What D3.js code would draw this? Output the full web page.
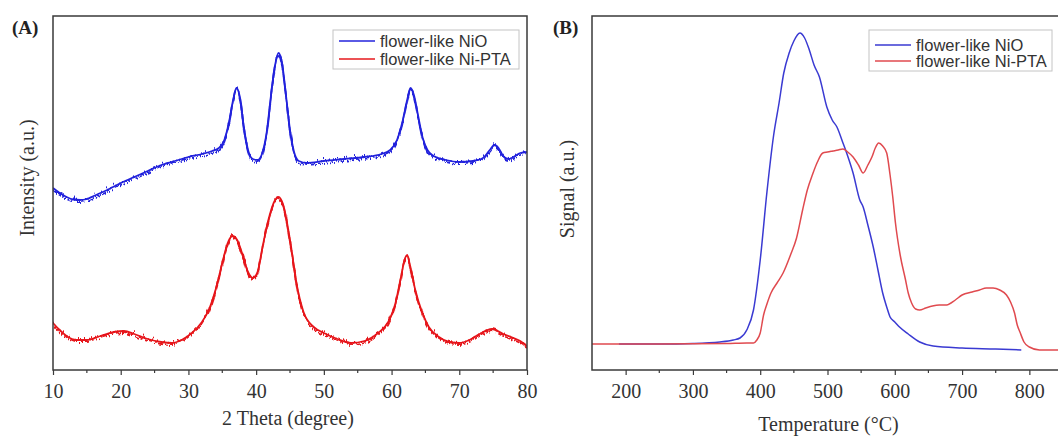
<!DOCTYPE html>
<html>
<head>
<meta charset="utf-8">
<script src="https://cdn.jsdelivr.net/npm/d3@7/dist/d3.min.js"></script>
<style>
  html, body { margin: 0; padding: 0; background: #fff; }
  svg { display: block; }
</style>
</head>
<body>
<svg id="fig" width="1058" height="436"></svg>
<script>
// ---- (A) XRD patterns: 2θ in degrees, intensity in arbitrary units ----
const thetaNiO = [10,11,12,13,14,15,16,18,20,22,24,26,28,29,30,32,33.5,34.5,35.3,36,36.6,37.1,37.6,38.2,38.8,39.5,40.2,40.8,41.5,42.2,42.8,43.3,43.8,44.4,45,45.6,46.3,47.5,50,53,56,58.5,59.8,60.8,61.6,62.3,62.8,63.3,63.9,64.6,65.3,66.2,68,70,72,73.5,74.5,75.2,75.8,76.6,77.3,78,79,80];
const intensityNiO = [182,177,173,170.5,170,171,174,180,187,193,199,205,209,211,213,216,219,222,230,248,270,282,273,242,220,211,210,215,235,275,305,317,308,275,240,218,209,207,209,211,213,216,220,230,248,270,282,275,255,232,220,214,210,208,209,212,220,225,222,213,211,213,217,218];

const thetaNiPTA = [10,11,12,13.5,15,17,19,20.5,22,24,26,27.5,29,30.5,32,33,34,35,35.8,36.5,37.2,38,38.8,39.5,40.2,41,42,42.8,43.3,44,45,46,47,48.5,50,52,54,56,58,59.5,60.5,61.3,62,62.3,62.8,63.5,64.5,65.5,67,68.5,70,71.5,73,74.8,76.5,78,79,80];
const intensityNiPTA = [47,40,34,30,30,34,38,39,36,31,28,27,30,37,48,60,80,107,127,134,130,115,98,92,98,125,155,170,173,165,130,85,58,43,37,31,27,29,37,48,65,90,112,115,102,80,58,43,33,28,27,30,36,41,36,32,29,24];

// ---- (B) TPR profiles: temperature in °C, signal in arbitrary units ----
const tempNiO = [190,250,300,340,360,370,380,390,400,410,420,428,435,443,450,459,466,473,480,488,499,507,514,523,530,538,548,553,560,568,575,582,588,593,600,607,620,637,657,700,750,788];
const signalNiO = [26,26,26.5,28,30,32,40,60,110,178,235,267,297,317,329,337,332,320,305,293,263,250,243,227,214,197,170,163,145,123,100,77,63,53,48,43,36,28,24,22,21,20];

const tempNiPTA = [150,250,350,380,390,395,400,405,410,416,425,434,445,454,463,470,478,485,493,500,508,516,523,530,538,546,553,560,566,571,576,582,588,593,597,601,608,616,620,625,631,637,646,656,666,677,690,700,715,726,736,746,756,766,772,778,782,786,792,800,815,850];
const signalNiPTA = [26,26,26.5,27,27,30,37,55,66,77,87,97,115,132,160,180,196,208,217,218,219,220,221,218,213,205,197,205,213,222,227,224,217,195,173,147,115,90,77,67,61,60,62,64,65,65,70,75,78,80,82,82,80,75,68,57,45,38,28,23,20,20];

// axis tick values
const thetaTicks = [10,20,30,40,50,60,70,80];
const tempTicks = [200,300,400,500,600,700,800];
const seriesNames = ["flower-like NiO", "flower-like Ni-PTA"];

// ---- layout & styles ----
const BLUE_A = "#2323dc", RED_A = "#e6181c";
const BLUE_B = "#3a3ad2", RED_B = "#e04a4f";
const serif = "'Liberation Serif', 'Times New Roman', serif";
const sans = "'Liberation Sans', Arial, sans-serif";

const svg = d3.select("#fig");

// counting-noise texture for the XRD traces: vertical-only jitter
const defs = svg.append("defs");
const flt = defs.append("filter").attr("id", "grain")
  .attr("x", "-2%").attr("y", "-10%").attr("width", "104%").attr("height", "120%");
flt.append("feTurbulence").attr("type", "turbulence")
  .attr("baseFrequency", "1.1 0.04").attr("numOctaves", 2).attr("seed", 7).attr("result", "n");
flt.append("feColorMatrix").attr("in", "n").attr("type", "matrix")
  .attr("values", "0 0 0 0 0.5  0 1.6 0 0 -0.1  0 0 1 0 0  0 0 0 0 1").attr("result", "m");
flt.append("feDisplacementMap").attr("in", "SourceGraphic").attr("in2", "m")
  .attr("scale", 6).attr("xChannelSelector", "R").attr("yChannelSelector", "G").attr("result", "d");
flt.append("feMerge").call(m => {
  m.append("feMergeNode").attr("in", "SourceGraphic");
  m.append("feMergeNode").attr("in", "d");
});

function zip(xs, ys) { return xs.map((x, i) => [x, ys[i]]); }

function panel(cfg) {
  const g = svg.append("g");
  const x = d3.scaleLinear().domain(cfg.xDomain).range([cfg.left, cfg.right]);
  const y = d3.scaleLinear().domain([0, 354]).range([cfg.bottom, cfg.top]);

  // clip for the plot area
  const clipId = cfg.id + "-clip";
  defs.append("clipPath").attr("id", clipId).append("rect")
    .attr("x", cfg.left).attr("y", cfg.top)
    .attr("width", cfg.right - cfg.left).attr("height", cfg.bottom - cfg.top);

  const line = d3.line().x(d => x(d[0])).y(d => y(d[1])).curve(d3.curveMonotoneX);
  const plot = g.append("g").attr("clip-path", `url(#${clipId})`);
  cfg.series.forEach(s => {
    plot.append("path")
      .attr("d", line(zip(s.xs, s.ys)))
      .attr("fill", "none")
      .attr("stroke", s.color)
      .attr("stroke-width", s.width)
      .attr("stroke-linejoin", "round")
      .attr("filter", s.grain ? "url(#grain)" : null);
  });

  // frame
  g.append("rect")
    .attr("x", cfg.left).attr("y", cfg.top)
    .attr("width", cfg.right - cfg.left).attr("height", cfg.bottom - cfg.top)
    .attr("fill", "none").attr("stroke", "#3a3a3a").attr("stroke-width", 1.5);

  // minor ticks
  g.append("g").selectAll("line").data(cfg.minorTicks).join("line")
    .attr("x1", d => x(d)).attr("x2", d => x(d))
    .attr("y1", cfg.bottom).attr("y2", cfg.bottom + 3)
    .attr("stroke", "#3a3a3a").attr("stroke-width", 1.2);

  // major ticks + labels
  const axis = d3.axisBottom(x).tickValues(cfg.ticks).tickSize(5).tickSizeOuter(0).tickPadding(cfg.tickPad);
  const ag = g.append("g").attr("transform", `translate(0,${cfg.bottom})`).call(axis);
  ag.select(".domain").remove();
  ag.selectAll(".tick line").attr("stroke", "#3a3a3a").attr("stroke-width", 1.2);
  ag.selectAll(".tick text").attr("font-family", serif).attr("font-size", 20).attr("fill", "#333");

  // axis titles
  g.append("text").attr("x", (cfg.left + cfg.right) / 2 + cfg.xTitleShift).attr("y", cfg.xTitleY)
    .attr("text-anchor", "middle").attr("font-family", serif).attr("font-size", 20).attr("fill", "#333")
    .text(cfg.xTitle);
  g.append("text")
    .attr("transform", `translate(${cfg.yTitleX},${cfg.yTitleMid}) rotate(-90)`)
    .attr("text-anchor", "middle").attr("font-family", serif).attr("font-size", 20).attr("fill", "#333")
    .text(cfg.yTitle);

  // panel tag
  g.append("text").attr("x", cfg.tagX).attr("y", 34)
    .attr("font-family", serif).attr("font-weight", "bold").attr("font-size", 19).attr("fill", "#222")
    .text(cfg.tag);

  // legend
  const L = cfg.legend;
  const lg = g.append("g");
  lg.append("rect").attr("x", L.x).attr("y", L.y).attr("width", L.w).attr("height", L.h)
    .attr("fill", "#fff").attr("stroke", "#c4c4c4").attr("stroke-width", 1);
  cfg.series.forEach((s, i) => {
    const yy = L.rows[i];
    lg.append("line").attr("x1", L.x + 6).attr("x2", L.x + 42).attr("y1", yy).attr("y2", yy)
      .attr("stroke", s.color).attr("stroke-width", 1.3);
    lg.append("text").attr("x", L.x + 47).attr("y", yy + 5.5)
      .attr("font-family", sans).attr("font-size", 16.5).attr("fill", "#333")
      .text(seriesNames[i]);
  });
}

panel({
  id: "xrd", tag: "(A)", tagX: 12,
  left: 53, right: 527, top: 16, bottom: 370,
  xDomain: [10, 80], ticks: thetaTicks,
  minorTicks: d3.range(15, 80, 10), tickPad: 9,
  xTitle: "2 Theta (degree)", xTitleY: 425, xTitleShift: -2,
  yTitle: "Intensity (a.u.)", yTitleX: 34, yTitleMid: 178,
  legend: { x: 333, y: 30, w: 186, h: 39, rows: [41, 59] },
  series: [
    { xs: thetaNiO, ys: intensityNiO, color: BLUE_A, width: 1.8, grain: true },
    { xs: thetaNiPTA, ys: intensityNiPTA, color: RED_A, width: 1.8, grain: true }
  ]
});

panel({
  id: "tpr", tag: "(B)", tagX: 553,
  left: 592, right: 1063, top: 16, bottom: 370,
  xDomain: [150, 850], ticks: tempTicks,
  minorTicks: d3.range(250, 850, 100), tickPad: 9,
  xTitle: "Temperature (°C)", xTitleY: 431, xTitleShift: 1,
  yTitle: "Signal (a.u.)", yTitleX: 574, yTitleMid: 189,
  legend: { x: 869, y: 30, w: 183, h: 41, rows: [45, 61] },
  series: [
    { xs: tempNiO, ys: signalNiO, color: BLUE_B, width: 1.5, grain: false },
    { xs: tempNiPTA, ys: signalNiPTA, color: RED_B, width: 1.5, grain: false }
  ]
});
</script>
</body>
</html>
